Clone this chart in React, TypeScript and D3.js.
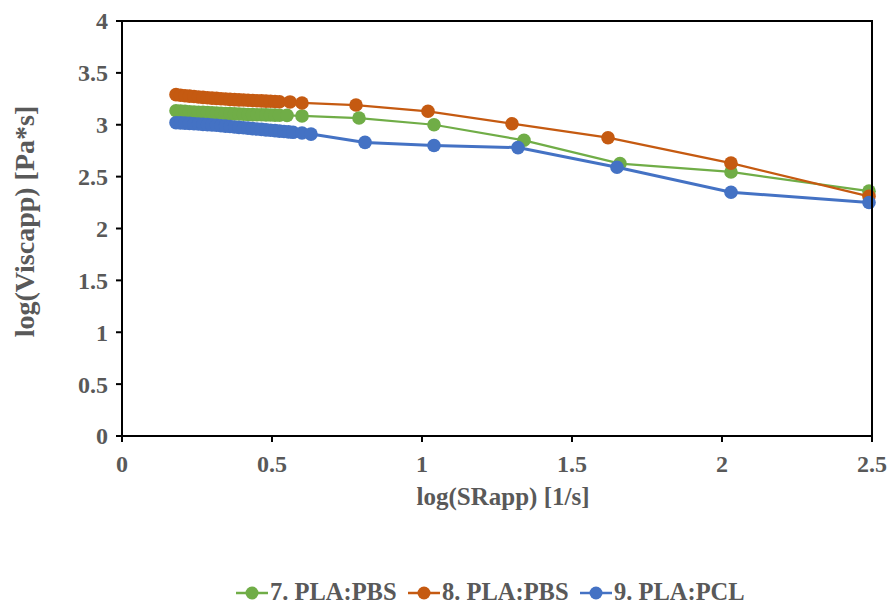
import React from "react";
import * as d3 from "d3";

const xTicks = [0, 0.5, 1, 1.5, 2, 2.5];
const yTicks = [0, 0.5, 1, 1.5, 2, 2.5, 3, 3.5, 4];

const xOrange = [0.18, 0.195, 0.21, 0.225, 0.24, 0.255, 0.27, 0.285, 0.3, 0.315, 0.33, 0.345, 0.36, 0.375, 0.39, 0.405, 0.42, 0.435, 0.45, 0.465, 0.48, 0.495, 0.51, 0.525, 0.56, 0.6, 0.78, 1.02, 1.3, 1.62, 2.03, 2.49];
const yOrange = [3.29, 3.285, 3.28, 3.276, 3.272, 3.268, 3.264, 3.26, 3.257, 3.254, 3.251, 3.248, 3.245, 3.242, 3.24, 3.238, 3.236, 3.234, 3.232, 3.23, 3.228, 3.226, 3.224, 3.222, 3.22, 3.21, 3.19, 3.13, 3.01, 2.875, 2.63, 2.31];

const xGreen = [0.18, 0.195, 0.21, 0.225, 0.24, 0.255, 0.27, 0.285, 0.3, 0.315, 0.33, 0.345, 0.36, 0.375, 0.39, 0.405, 0.42, 0.435, 0.45, 0.465, 0.48, 0.495, 0.51, 0.525, 0.55, 0.6, 0.79, 1.04, 1.34, 1.66, 2.03, 2.49];
const yGreen = [3.135, 3.132, 3.129, 3.126, 3.123, 3.121, 3.119, 3.117, 3.115, 3.113, 3.111, 3.109, 3.107, 3.105, 3.103, 3.101, 3.099, 3.098, 3.097, 3.096, 3.095, 3.094, 3.093, 3.092, 3.09, 3.085, 3.065, 3.0, 2.85, 2.625, 2.545, 2.36];

const xBlue = [0.18, 0.195, 0.21, 0.225, 0.24, 0.255, 0.27, 0.285, 0.3, 0.315, 0.33, 0.345, 0.36, 0.375, 0.39, 0.405, 0.42, 0.435, 0.45, 0.465, 0.48, 0.495, 0.51, 0.525, 0.54, 0.555, 0.57, 0.6, 0.63, 0.81, 1.04, 1.32, 1.65, 2.03, 2.49];
const yBlue = [3.02, 3.018, 3.016, 3.013, 3.01, 3.007, 3.004, 3.001, 2.998, 2.995, 2.991, 2.987, 2.983, 2.979, 2.975, 2.971, 2.967, 2.963, 2.959, 2.955, 2.951, 2.947, 2.943, 2.939, 2.935, 2.931, 2.927, 2.92, 2.91, 2.83, 2.8, 2.78, 2.59, 2.35, 2.25];

const seriesNames = ["7. PLA:PBS", "8. PLA:PBS", "9. PLA:PCL"];
const seriesColors = ["#70AD47", "#C55A11", "#4472C4"];

const series = [
  { name: seriesNames[0], color: seriesColors[0], xs: xGreen, ys: yGreen, lw: 2.25 },
  { name: seriesNames[1], color: seriesColors[1], xs: xOrange, ys: yOrange, lw: 2.25 },
  { name: seriesNames[2], color: seriesColors[2], xs: xBlue, ys: yBlue, lw: 3 },
];

const W = 888;
const H = 604;
const L = 122, R = 872, T = 21, B = 436;

export default function App() {
  const x = d3.scaleLinear().domain([0, 2.5]).range([L, R]);
  const y = d3.scaleLinear().domain([0, 4]).range([B, T]);
  const font = "'Liberation Serif', 'Times New Roman', serif";
  const gray = "#595959";

  const legendItems = [
    { x0: 236, label: seriesNames[0], color: seriesColors[0] },
    { x0: 408, label: seriesNames[1], color: seriesColors[1] },
    { x0: 580, label: seriesNames[2], color: seriesColors[2] },
  ];
  const legendY = 591;

  return (
    <svg width={W} height={H} style={{ position: "absolute", left: 0, top: 0, background: "#fff" }}>
      <rect x={0} y={0} width={W} height={H} fill="#fff" />
      {series.map((s) => {
        const pts: [number, number][] = s.xs.map((v, i) => [v, s.ys[i]]);
        const line = d3.line<[number, number]>().x((d) => x(d[0])).y((d) => y(d[1]));
        return (
          <g key={s.name}>
            <path d={line(pts) || ""} fill="none" stroke={s.color} strokeWidth={s.lw} />
            {pts.map((p, i) => (
              <circle key={i} cx={x(p[0])} cy={y(p[1])} r={6.8} fill={s.color} />
            ))}
          </g>
        );
      })}
      <rect x={L} y={T} width={R - L} height={B - T} fill="none" stroke="#000" strokeWidth={2} />
      {yTicks.map((t) => (
        <g key={"y" + t}>
          <line x1={L - 6} x2={L} y1={y(t)} y2={y(t)} stroke="#000" strokeWidth={2} />
          <text x={L - 14} y={y(t)} dy="0.35em" textAnchor="end" fontFamily={font} fontWeight="bold" fontSize={24} fill={gray}>
            {String(t)}
          </text>
        </g>
      ))}
      {xTicks.map((t) => (
        <g key={"x" + t}>
          <line x1={x(t)} x2={x(t)} y1={B} y2={B + 6} stroke="#000" strokeWidth={2} />
          <text x={x(t)} y={B + 36} textAnchor="middle" fontFamily={font} fontWeight="bold" fontSize={24} fill={gray}>
            {String(t)}
          </text>
        </g>
      ))}
      <text x={(L + R) / 2 + 6} y={505} textAnchor="middle" fontFamily={font} fontWeight="bold" fontSize={25} fill={gray}>
        log(SRapp) [1/s]
      </text>
      <text transform={`translate(34, ${(T + B) / 2 - 7}) rotate(-90)`} textAnchor="middle" fontFamily={font} fontWeight="bold" fontSize={28} fill={gray}>
        log(Viscapp) [Pa*s]
      </text>
      {legendItems.map((it) => (
        <g key={it.label}>
          <line x1={it.x0} x2={it.x0 + 32} y1={legendY + 2} y2={legendY + 2} stroke={it.color} strokeWidth={2.5} />
          <circle cx={it.x0 + 16} cy={legendY + 2} r={6.5} fill={it.color} />
          <text x={it.x0 + 34} y={legendY} dy="0.35em" fontFamily={font} fontWeight="bold" fontSize={24.5} fill={gray}>
            {it.label}
          </text>
        </g>
      ))}
    </svg>
  );
}
